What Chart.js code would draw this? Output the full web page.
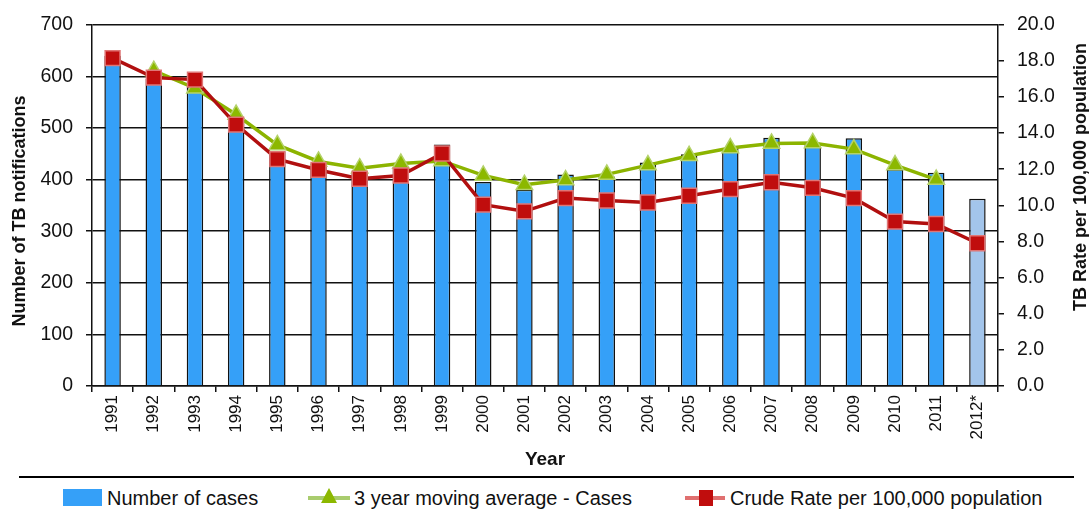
<!DOCTYPE html>
<html>
<head>
<meta charset="utf-8">
<script src="https://cdn.jsdelivr.net/npm/chart.js@4.4.1/dist/chart.umd.min.js"></script>
<style>
  html, body { margin: 0; padding: 0; background: #fff; }
  body { width: 1089px; height: 511px; position: relative; overflow: hidden;
         font-family: 'Liberation Sans', Arial, sans-serif; }
  #chart { position: absolute; left: 0; top: 0; }
  .rule { position: absolute; left: 19px; top: 476px; width: 1055px; height: 0; border-top: 2px solid #000; }
  .leg { position: absolute; top: 486px; height: 24px; line-height: 24px; font-size: 20px; color: #111; white-space: nowrap; }
  .sw { position: absolute; }
</style>
</head>
<body>
<canvas id="chart" width="1089" height="476"></canvas>
<div class="rule"></div>

<div class="sw" style="left:63px;top:489px;width:39px;height:17px;background:#35a0f8"></div>
<div class="leg" style="left:107px">Number of cases</div>

<div class="sw" style="left:308px;top:496px;width:42px;height:4px;background:#a9cc6e"></div>
<div class="sw" style="left:321px;top:488px;width:0;height:0;border-left:8px solid transparent;border-right:8px solid transparent;border-bottom:15px solid #8cb800"></div>
<div class="leg" style="left:354px">3 year moving average - Cases</div>

<div class="sw" style="left:685px;top:496px;width:40px;height:4px;background:#e07070"></div>
<div class="sw" style="left:699px;top:490px;width:14px;height:16px;background:#c00d0d"></div>
<div class="leg" style="left:730px">Crude Rate per 100,000 population</div>

<script>
// Data
const years = ['1991','1992','1993','1994','1995','1996','1997','1998','1999','2000','2001',
               '2002','2003','2004','2005','2006','2007','2008','2009','2010','2011','2012*'];
const cases = [640, 595, 580, 520, 455, 431, 413, 425, 468, 395, 380,
               410, 406, 433, 449, 461, 481, 470, 480, 420, 413, 363];
const movingAvg = [null, 611, 577, 526, 467, 435, 422, 431, 436, 408, 390,
                   399, 410, 428, 446, 461, 470, 471, 459, 428, 400, null];
const crudeRate = [18.15, 17.07, 16.96, 14.47, 12.56, 11.96, 11.47, 11.65, 12.87, 10.04, 9.67,
                   10.40, 10.27, 10.16, 10.53, 10.90, 11.28, 10.97, 10.40, 9.10, 8.97, 7.90];
const leftTicks = [0, 100, 200, 300, 400, 500, 600, 700];
const rightTicks = [0, 2, 4, 6, 8, 10, 12, 14, 16, 18, 20];

const FONT = "'Liberation Sans', Arial, sans-serif";
const barColors = years.map(y => y.endsWith('*') ? '#a3c5eb' : '#35a0f8');

// y-axis titles both read bottom-to-top, so they are drawn here
const axisTitles = {
  id: 'axisTitles',
  afterDraw(chart) {
    const ctx = chart.ctx;
    ctx.save();
    ctx.fillStyle = '#111';
    ctx.font = 'bold 18px ' + FONT;
    ctx.textAlign = 'center';
    ctx.textBaseline = 'middle';
    [[20, 211, 'Number of TB notifications'], [1081, 177, 'TB Rate per 100,000 population']].forEach(t => {
      ctx.save();
      ctx.translate(t[0], t[1]);
      ctx.rotate(-Math.PI / 2);
      ctx.fillText(t[2], 0, 0);
      ctx.restore();
    });
    ctx.restore();
  }
};

new Chart(document.getElementById('chart'), {
  type: 'bar',
  data: {
    labels: years,
    datasets: [
      {
        type: 'line',
        label: 'Crude Rate per 100,000 population',
        data: crudeRate,
        yAxisID: 'y1',
        order: 0,
        borderColor: '#b10f0f',
        borderWidth: 3.5,
        tension: 0,
        pointStyle: 'rect',
        pointRadius: 10.5,
        pointHoverRadius: 10.5,
        pointBackgroundColor: '#c00d0d',
        pointBorderColor: '#e07575',
        pointBorderWidth: 1.5
      },
      {
        type: 'line',
        label: '3 year moving average - Cases',
        data: movingAvg,
        yAxisID: 'y',
        order: 1,
        borderColor: '#8cb400',
        borderWidth: 3.5,
        tension: 0,
        pointStyle: 'triangle',
        pointRadius: 9.5,
        pointHoverRadius: 9.5,
        pointBackgroundColor: '#8cb800',
        pointBorderColor: '#b4d26a',
        pointBorderWidth: 1.5
      },
      {
        label: 'Number of cases',
        data: cases,
        yAxisID: 'y',
        order: 2,
        backgroundColor: barColors,
        borderColor: '#111',
        borderWidth: 1.5,
        barPercentage: 0.4,
        categoryPercentage: 1
      }
    ]
  },
  options: {
    responsive: false,
    animation: false,
    layout: { padding: { top: 22, left: 0, right: 0, bottom: 0 } },
    plugins: { legend: { display: false }, tooltip: { enabled: false } },
    scales: {
      x: {
        grid: { offset: true, drawOnChartArea: false, tickLength: 6, color: '#111', lineWidth: 1.5 },
        border: { color: '#111', width: 1.5 },
        ticks: { autoSkip: false, minRotation: 90, maxRotation: 90, padding: 3, color: '#111',
                 font: { family: FONT, size: 17 } },
        title: { display: true, text: 'Year', color: '#111', padding: { top: 0, bottom: 5 },
                 font: { family: FONT, size: 19, weight: 'bold' } },
        afterFit: s => { s.height = 90; }
      },
      y: {
        position: 'left',
        min: 0, max: 700,
        afterBuildTicks: s => { s.ticks = leftTicks.map(v => ({ value: v })); },
        grid: { color: '#111', lineWidth: 1.5, tickLength: 6 },
        border: { color: '#111', width: 1.5 },
        ticks: { padding: 13, color: '#111', font: { family: FONT, size: 19.5 } },
        afterFit: s => { s.width = 92; }
      },
      y1: {
        position: 'right',
        min: 0, max: 20,
        afterBuildTicks: s => { s.ticks = rightTicks.map(v => ({ value: v })); },
        grid: { drawOnChartArea: false, color: '#111', lineWidth: 1.5, tickLength: 6 },
        border: { color: '#111', width: 1.5 },
        ticks: { padding: 13, color: '#111', font: { family: FONT, size: 19.5 },
                 callback: v => v.toFixed(1) },
        afterFit: s => { s.width = 91; }
      }
    }
  },
  plugins: [axisTitles]
});
</script>
</body>
</html>
